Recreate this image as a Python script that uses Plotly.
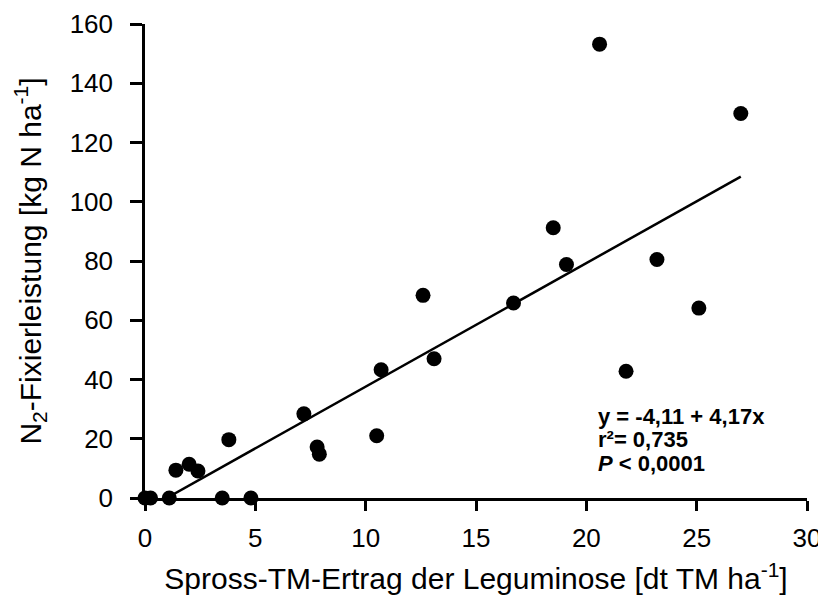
import plotly.graph_objects as go

x_vals = [0.0, 0.25, 1.1, 3.5, 4.8, 1.4, 2.0, 2.4, 3.8, 7.2, 7.8, 7.9, 10.5,
          10.7, 12.6, 13.1, 16.7, 18.5, 19.1, 20.6, 21.8, 23.2, 25.1, 27.0]
y_vals = [0.0, 0.0, 0.0, 0.0, 0.0, 9.4, 11.4, 9.1, 19.7, 28.4, 17.2, 14.8, 21.0,
          43.3, 68.4, 47.0, 65.8, 91.2, 78.8, 153.2, 42.8, 80.5, 64.1, 129.8]

intercept = -4.11
slope = 4.17
line_x = [-intercept / slope, 27.0]
line_y = [intercept + slope * v for v in line_x]

x_ticks = [0, 5, 10, 15, 20, 25, 30]
y_ticks = [0, 20, 40, 60, 80, 100, 120, 140, 160]

stat_lines = ["<b>y = -4,11 + 4,17x</b>", "<b>r²= 0,735</b>", "<b><i>P</i> &lt; 0,0001</b>"]

font_family = "Liberation Sans, Arial, sans-serif"

fig = go.Figure()
fig.add_trace(go.Scatter(x=line_x, y=line_y, mode="lines",
                         line=dict(color="black", width=2.5),
                         showlegend=False, hoverinfo="skip"))
fig.add_trace(go.Scatter(x=x_vals, y=y_vals, mode="markers",
                         marker=dict(color="black", size=15),
                         cliponaxis=False, showlegend=False))

fig.update_layout(
    width=818, height=602,
    margin=dict(l=137, r=19, t=16, b=112),
    plot_bgcolor="white", paper_bgcolor="white",
    font=dict(family=font_family, color="black", size=26),
    xaxis=dict(range=[0, 30], tickvals=x_ticks, ticks="outside", ticklen=10,
               tickwidth=2.5, tickcolor="black", showline=True, linecolor="black",
               linewidth=2.5, showgrid=False, zeroline=False, automargin=False,
               tickfont=dict(size=26), ticklabelstandoff=5,
               ticklabeloverflow="allow",
               title=dict(text="Spross-TM-Ertrag der Leguminose [dt TM ha<sup>-1</sup>]",
                          font=dict(size=30), standoff=17)),
    yaxis=dict(range=[0, 160], tickvals=y_ticks, ticks="outside", ticklen=12,
               tickwidth=2.5, tickcolor="black", showline=True, linecolor="black",
               linewidth=2.5, showgrid=False, zeroline=False, automargin=False,
               tickfont=dict(size=26), ticklabelstandoff=12,
               ticklabeloverflow="allow",
               title=dict(text="N<sub>2</sub>-Fixierleistung [kg N ha<sup>-1</sup>]",
                          font=dict(size=30), standoff=20)),
)

line_ys = [0.172, 0.123, 0.073]
for txt, yy in zip(stat_lines, line_ys):
    fig.add_annotation(
        x=0.683, y=yy, xref="paper", yref="paper", xanchor="left", yanchor="middle",
        align="left", showarrow=False, text=txt, borderpad=0,
        font=dict(size=22, family=font_family, color="black"),
    )

fig.write_html("out.html")
